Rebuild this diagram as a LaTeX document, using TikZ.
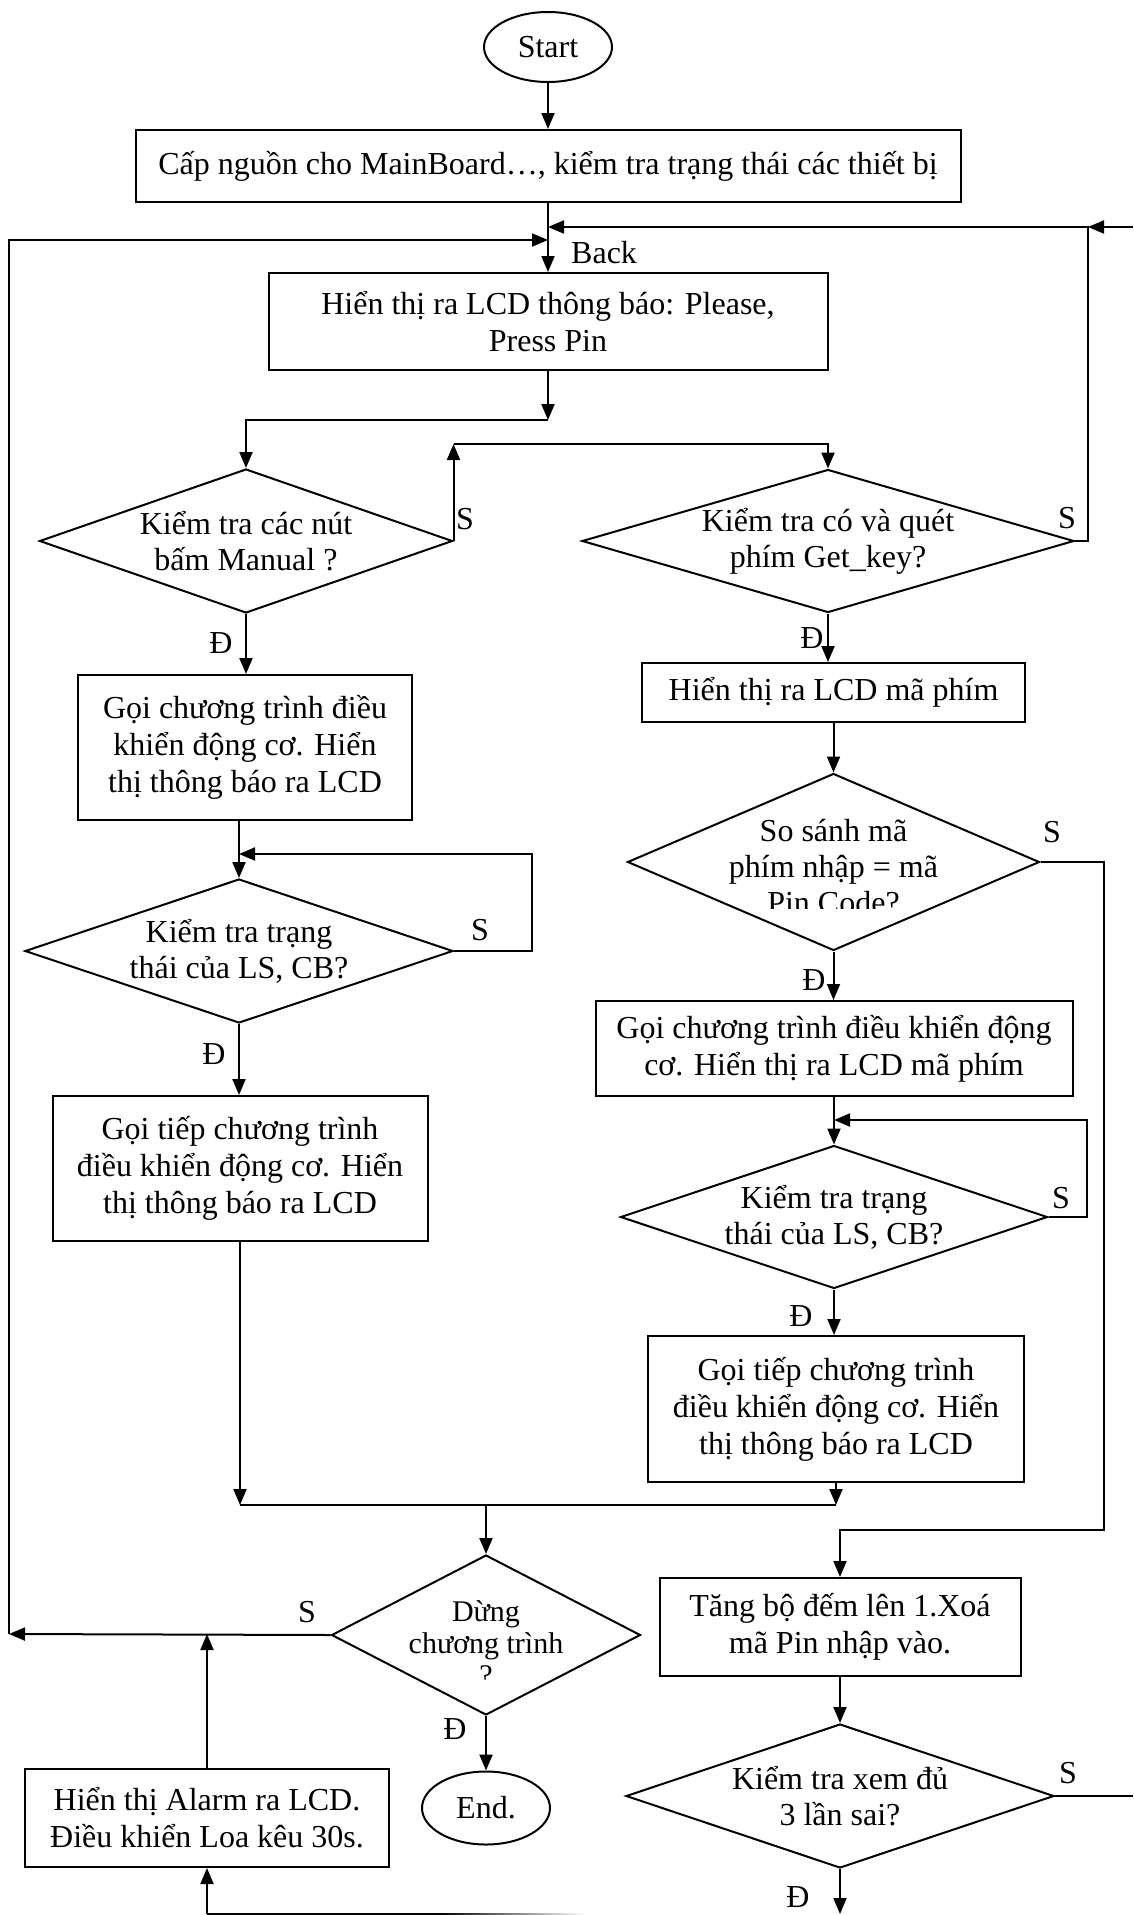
\documentclass[tikz,border=0pt]{standalone}
\usepackage{fontspec}
\setmainfont{Liberation Serif}
\usetikzlibrary{arrows.meta,shapes.geometric}

\tikzset{
  flow/.style={line width=2pt},
  arr/.style={flow, -{Triangle[length=16pt,width=13pt]}},
  box/.style={draw, line width=2pt, rectangle, inner sep=0pt, align=center,
    font=\fontsize{32}{37}\selectfont},
  dia/.style={draw, line width=2pt, diamond, inner sep=0pt},
  dtext/.style={align=center, inner sep=0pt, font=\fontsize{32}{36}\selectfont},
  term/.style={draw, line width=2pt, ellipse, inner sep=0pt,
    font=\fontsize{32}{36}\selectfont},
  lbl/.style={inner sep=0pt, font=\fontsize{32}{36}\selectfont},
}

\begin{document}
\begin{tikzpicture}[x=1pt,y=-1pt]
\useasboundingbox (0,0) rectangle (1133,1915);

% ---------- main column ----------
\node[term, minimum width=128pt, minimum height=70pt] (start) at (548,47) {Start};
\node[box, minimum width=825pt, minimum height=72pt] (b1) at (548,166)
  {Cấp nguồn cho MainBoard…, kiểm tra trạng thái các thiết bị};
\node[box, minimum width=559pt, minimum height=97pt] (b2) at (548,321.5)
  {Hiển thị ra LCD thông báo: Please,\\Press Pin};

% ---------- left branch: manual buttons ----------
\node[dia, minimum width=413pt, minimum height=144pt] (d1) at (246,541) {};
\node[dtext] (t1) at (d1) {Kiểm tra các nút\\bấm Manual ?};
\node[box, minimum width=334pt, minimum height=145pt] (b3) at (245,747.5)
  {Gọi chương trình điều\\khiển động cơ. Hiển\\thị thông báo ra LCD};
\node[dia, minimum width=428pt, minimum height=144pt] (d4) at (239,951) {};
\node[dtext] (t4) at (d4) {Kiểm tra trạng\\thái của LS, CB?};
\node[box, minimum width=375pt, minimum height=145pt] (b7) at (240,1168.5)
  {Gọi tiếp chương trình\\điều khiển động cơ. Hiển\\thị thông báo ra LCD};

% ---------- right branch: keypad ----------
\node[dia, minimum width=492pt, minimum height=143pt] (d2) at (828,541) {};
\node[dtext] (t2) at (d2) {Kiểm tra có và quét\\phím Get\_key?};
\node[box, minimum width=383pt, minimum height=59pt] (b4) at (833.5,692.5)
  {Hiển thị ra LCD mã phím};
\node[dia, minimum width=412pt, minimum height=177pt] (d3) at (833.5,862) {};
\begin{scope}
  \clip (600,700) rectangle (1070,908);
  \node[dtext] (t3) at (833.5,867) {So sánh mã\\phím nhập = mã\\Pin Code?};
\end{scope}
\node[box, minimum width=477pt, minimum height=95pt] (b5) at (834,1048.5)
  {Gọi chương trình điều khiển động\\cơ. Hiển thị ra LCD mã phím};
\node[dia, minimum width=427pt, minimum height=143pt] (d7) at (834,1217) {};
\node[dtext] (t7) at (d7) {Kiểm tra trạng\\thái của LS, CB?};
\node[box, minimum width=376pt, minimum height=146pt] (b6) at (836,1409)
  {Gọi tiếp chương trình\\điều khiển động cơ. Hiển\\thị thông báo ra LCD};

% ---------- stop question ----------
\node[dia, minimum width=309pt, minimum height=160pt] (d5) at (486,1635) {};
\begin{scope}
  \clip (330,1560) rectangle (640,1679);
  \node[dtext, font=\fontsize{30}{32}\selectfont] (t5) at (486,1643)
    {Dừng\\chương trình\\?};
\end{scope}
\node[term, minimum width=128pt, minimum height=73pt] (end) at (486,1808) {End.};
\node[box, minimum width=364pt, minimum height=98pt] (b8) at (207,1818)
  {Hiển thị Alarm ra LCD.\\Điều khiển Loa kêu 30s.};

% ---------- wrong code counter ----------
\node[box, minimum width=361pt, minimum height=98pt] (b9) at (840,1627)
  {Tăng bộ đếm lên 1.Xoá\\mã Pin nhập vào.};
\node[dia, minimum width=428pt, minimum height=144pt] (d6) at (840,1796) {};
\node[dtext] (t6) at (d6) {Kiểm tra xem đủ\\3 lần sai?};

% ---------- helper points ----------
\coordinate (rE) at (1133,227);
\coordinate (rC) at (1088,227);
\coordinate (jR) at (548,227);
\coordinate (jL) at (548,240);
\coordinate (lT) at (9,240);
\coordinate (lC) at (9,1634);
\coordinate (sp) at (548,420);
\coordinate (yU) at (0,444);
\coordinate (xL1) at (532,0);
\coordinate (yL1) at (0,854);
\coordinate (xR2) at (1087,0);
\coordinate (yR2) at (0,1120);
\coordinate (yM) at (0,1505);
\coordinate (xR3) at (1104,0);
\coordinate (yR3) at (0,1530);
\coordinate (rE2) at (1133,1796);
\coordinate (bD) at (840,1914);
\coordinate (bL) at (207,1914);
\coordinate (bF) at (440,1914);

% ---------- connectors ----------
\draw[arr] (start) -- (b1);
\draw[arr] (b1) -- (b2);
\draw[arr] (rE) -- (rC);
\draw[arr] (d2.east) -| (rC) -- (jR);
\draw[arr] (d5.west) -- (lC);
\draw[arr] (lC) -- (lT) -- (jL);
\draw[arr] (b2.south) -- (sp);
\draw[arr] (sp) -| (d1.north);
\draw[arr] (d1.east) -- (d1.east |- yU);
\draw[arr] (d1.east |- yU) -| (d2.north);

\draw[arr] (d1.south) -- (d1.south |- b3.north);
\draw[arr] (d4.north |- b3.south) -- (d4.north);
\draw[arr] (d4.east) -| (xL1 |- yL1) -- (d4.north |- yL1);
\draw[arr] (d4.south) -- (d4.south |- b7.north);

\draw[arr] (d2.south) -- (d2.south |- b4.north);
\draw[arr] (b4.south) -- (b4.south |- d3.north);
\draw[arr] (d3.south) -- (d3.south |- b5.north);
\draw[arr] (b5.south) -- (d7.north);
\draw[arr] (d7.east) -| (xR2 |- yR2) -- (d7.north |- yR2);
\draw[arr] (d7.south) -- (d7.south |- b6.north);

\draw[arr] (b7.south) -- (b7.south |- yM);
\draw[arr] (b6.south) -- (b6.south |- yM);
\draw[flow] (b7.south |- yM) -- (b6.south |- yM);
\draw[arr] (d5.north |- yM) -- (d5.north);
\draw[arr] (d5.south) -- (end.north);

\draw[arr] (d3.east) -| (xR3 |- yR3) -| (b9.north);
\draw[arr] (b9.south) -- (d6.north);
\draw[flow] (d6.east) -- (rE2);
\draw[arr] (d6.south) -- (bD);

\draw[arr] (b8.north) -- (b8.north |- lC);
\draw[arr] (bL) -- (b8.south);
\draw[flow] (bL) -- (bF);
\shade[left color=black, right color=white] (440,1913) rectangle (585,1915);

% ---------- branch labels ----------
\node[lbl, anchor=west] (lback) at (571,253) {Back};
\node[lbl] (s1) at (465,519) {S};
\node[lbl] (s2) at (1067,518) {S};
\node[lbl] (s3) at (1052,832) {S};
\node[lbl] (s4) at (480,930) {S};
\node[lbl] (s7) at (1061,1198) {S};
\node[lbl] (s5) at (307,1612) {S};
\node[lbl] (s6) at (1068,1773) {S};
\node[lbl] (y1) at (221,643) {Đ};
\node[lbl] (y2) at (812,638) {Đ};
\node[lbl] (y3) at (814,980) {Đ};
\node[lbl] (y4) at (214,1054) {Đ};
\node[lbl] (y7) at (801,1316) {Đ};
\node[lbl] (y5) at (455,1729) {Đ};
\node[lbl] (y6) at (798,1897) {Đ};
\end{tikzpicture}
\end{document}
